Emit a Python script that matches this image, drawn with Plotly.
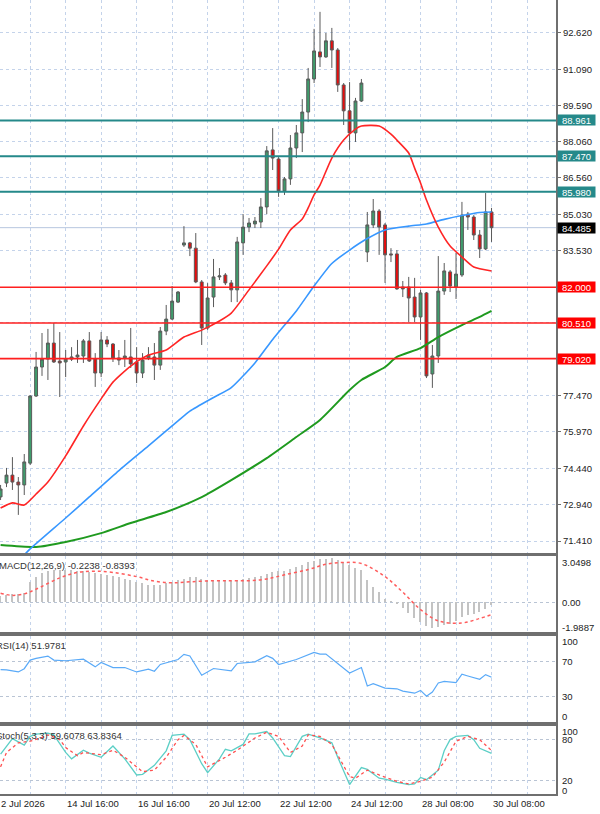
import plotly.graph_objects as go

# ---------------- data ----------------
bars = list(range(84))
opens = [73.25,73.83,74.16,73.87,73.75,74.66,77.46,78.67,79.00,79.67,78.92,78.88,79.00,79.09,79.13,79.76,79.00,78.42,79.80,79.63,
         79.05,79.05,79.09,78.88,78.42,79.05,79.09,78.75,80.17,80.67,81.38,83.76,83.85,83.63,82.22,80.30,81.59,82.43,82.51,82.18,
         81.89,83.85,84.51,84.64,84.72,85.35,87.73,87.35,86.02,86.52,87.81,88.44,89.31,90.69,91.82,91.61,92.28,91.90,90.44,89.36,
         88.44,89.77,83.47,84.60,85.18,84.60,83.39,83.39,82.01,82.01,81.59,80.76,81.76,78.38,79.13,81.84,82.64,82.01,82.51,85.05,
         84.93,84.18,83.60,85.14]
highs = [73.75,74.46,74.91,74.08,75.04,77.50,79.30,80.09,80.26,80.51,80.13,79.38,79.50,79.80,79.84,80.13,79.25,80.13,79.96,79.67,
         79.38,79.80,80.30,79.50,79.25,79.50,79.67,80.34,81.26,82.05,81.84,84.55,83.89,84.26,82.30,82.17,83.18,82.80,82.59,82.30,
         84.10,85.05,84.89,84.93,85.72,87.89,88.64,87.43,86.60,88.35,88.77,89.85,91.15,92.78,93.49,92.61,92.82,91.98,90.52,90.56,
         89.90,90.69,85.14,85.68,85.26,84.68,83.63,83.55,82.26,82.43,82.39,81.89,81.80,79.59,83.30,83.01,82.72,83.43,85.56,85.14,
         85.01,84.39,85.93,85.31]
lows = [73.12,73.66,73.54,72.50,73.33,74.58,77.42,78.30,78.13,78.84,77.42,78.25,78.92,78.84,78.84,78.88,77.84,78.25,79.50,78.88,
        78.75,78.67,78.63,78.00,78.21,78.96,78.13,78.55,80.00,80.63,81.34,83.68,83.30,82.17,79.59,80.22,81.17,82.30,82.09,81.38,
        81.38,83.35,84.30,84.47,84.47,85.05,86.89,85.77,85.85,86.27,87.39,87.64,88.89,90.52,91.19,91.57,91.15,90.15,88.77,87.73,
        88.06,89.73,83.05,84.47,83.35,82.18,83.05,81.89,81.59,80.55,80.55,79.80,78.21,77.80,78.84,81.68,81.80,81.51,82.43,84.39,
        83.97,83.22,83.55,83.89]
closes = [73.58,74.16,73.87,73.75,74.71,77.46,78.67,79.00,79.67,78.88,78.84,79.00,79.09,79.17,79.76,78.92,78.42,79.80,79.63,79.05,
          78.96,79.13,78.80,78.42,78.96,79.17,78.75,80.17,80.67,81.42,81.80,83.85,83.63,82.22,80.30,81.55,82.43,82.47,82.18,81.89,
          83.89,84.51,84.68,84.76,85.35,87.69,87.39,86.02,86.52,87.81,88.44,89.31,90.69,91.86,91.61,92.28,91.90,90.44,89.36,88.44,
          89.77,90.52,84.60,85.18,84.51,83.35,83.35,81.93,81.93,81.55,80.76,81.76,78.30,79.13,81.84,82.68,82.05,82.55,85.01,84.93,
          84.18,83.60,85.14,84.485]

ma_red_x = [0,2,4,6,8,11,14,17,19,22,25,28,31,34,37,39,42,45,47,49,51,52,53,54,56,58,60,61,64,66,67,69,70,71,72,74,76,78,80,83]
ma_red_y = [72.79,73.00,72.91,73.37,73.87,74.96,76.21,77.34,78.04,78.71,79.17,79.38,79.92,80.21,80.59,80.92,81.89,82.89,83.59,84.39,
            84.85,85.31,85.85,86.26,87.39,88.14,88.60,88.73,88.73,88.39,88.14,87.60,86.97,86.35,85.64,84.51,83.72,83.26,82.84,82.68]
ma_blue_x = [4,5,11,15,20,25,30,32,36,39,43,46,50,53,56,59,62,65,69,72,75,78,81,83]
ma_blue_y = [70.83,71.08,72.37,73.25,74.35,75.38,76.42,76.83,77.40,77.81,78.84,79.82,81.01,82.05,82.99,83.55,84.03,84.39,84.55,84.64,
             84.83,84.99,85.12,85.14]
ma_green_x = [0,6,11,17,22,28,34,39,45,50,54,59,61,65,67,71,74,78,81,83]
ma_green_y = [71.24,71.16,71.37,71.74,72.16,72.62,73.24,73.95,74.87,75.75,76.46,77.71,78.13,78.67,79.09,79.46,79.92,80.42,80.76,81.01]

levels_teal = [88.961, 87.470, 85.980]
levels_red = [82.000, 80.510, 79.020]
last_price = 84.485

price_ticks = [92.620,91.090,89.590,88.060,86.560,85.030,83.530,82.000,80.510,79.020,77.470,75.970,74.440,72.940,71.410]
price_text = ["92.620","91.090","89.590","88.060","86.560","85.030","83.530","","","","77.470","75.970","74.440","72.940","71.410"]

macd_main = [0.40,0.45,0.50,0.50,0.60,1.34,1.68,1.92,2.04,2.11,2.15,2.15,2.13,2.08,2.04,2.00,1.93,1.86,1.81,1.74,
             1.63,1.53,1.46,1.34,1.27,1.16,1.12,1.16,1.23,1.34,1.46,1.53,1.63,1.63,1.53,1.46,1.46,1.46,1.43,1.40,
             1.46,1.53,1.57,1.63,1.70,1.86,2.00,2.04,2.08,2.22,2.32,2.45,2.62,2.73,2.82,2.85,2.89,2.78,2.62,2.45,
             2.27,2.13,1.46,1.00,0.65,0.19,0.03,-0.12,-0.39,-0.74,-1.09,-1.32,-1.62,-1.71,-1.67,-1.55,-1.44,-1.25,-0.97,-0.86,
             -0.79,-0.63,-0.46,-0.22]
macd_sig_x = [0,2,4,6,10,13,16,19,23,26,29,32,36,39,42,45,48,52,55,58,61,65,68,71,74,78,81,83]
macd_sig_y = [0.58,0.44,0.54,0.85,1.60,1.96,2.04,1.96,1.68,1.38,1.27,1.34,1.41,1.41,1.41,1.53,1.80,2.15,2.50,2.62,
              2.55,1.68,0.65,-0.50,-1.25,-1.39,-1.09,-0.84]
macd_labels = ["3.0498", "0.00", "-1.9887"]
macd_label_vals = [3.0498, 0.0, -1.9887]

rsi_x = [0,1,3,4,5,6,8,9,11,14,16,17,19,21,23,25,26,27,30,31,32,34,36,39,40,43,45,46,47,50,53,54,55,57,59,61,62,63,65,67,
         68,70,71,72,73,74,75,77,78,79,81,82,83]
rsi_y = [61,60.5,58.2,62,72,74,76.7,72,71.2,73.1,64.1,69.2,63.3,63.3,58.2,61.4,59,66.9,72.7,78.6,76.7,54.3,62.2,59.4,68,70,
         77,74,66.9,72.7,81,79,79,68,57,63.3,41.8,44.5,39.4,38.6,35.9,33.5,36.7,30,34.9,45.3,47.3,45.7,55.5,53.5,49.6,55.1,51.98]

stoch_x = [0,1,2,3,4,5,6,8,9,11,12,14,15,17,19,21,23,24,26,28,29,31,32,34,35,37,38,39,41,42,43,45,46,48,49,51,52,54,56,57,
           59,61,62,64,65,67,69,70,71,72,74,75,76,77,79,80,81,83]
stoch_y = [58.7,70.6,81.4,76.7,72,84.7,88,89.4,87,61.1,51.7,64.4,60.2,54,70.6,51.7,28,29,42.2,63.5,86.1,88,80,44.6,31.3,51.7,
           65.8,63.5,72.9,88.5,88.5,91.8,82.4,56.4,55,84.7,88,82.4,75.3,54,13.9,38.9,36.1,23.3,21.9,17.2,13.9,14.8,24.3,21,
           35.1,63.5,80,84.7,86.1,80,67.2,59.6]
stoch_sig_x = [0,1,3,5,7,8,10,11,13,14,17,19,21,24,26,28,30,31,33,35,38,40,43,45,47,49,51,52,54,56,59,60,62,64,67,69,71,73,75,77,79,81,83]
stoch_sig_y = [39.9,61.1,75.3,77.6,83.3,87,80,68.2,56.4,61.1,57.8,64.4,54,32.8,35.1,54,80,86.1,72.9,39.9,54,64.4,82.4,90.9,84.7,
               61.1,70.6,87,84.7,72.9,25.7,23.3,35.1,28,18.6,14.8,18.6,24.7,46.9,77.6,84.7,80,63.8]

date_pos = [0, 11, 23, 35, 47, 59, 71, 83]
date_text = ["2 Jul 2026", "14 Jul 16:00", "16 Jul 16:00", "20 Jul 12:00", "22 Jul 12:00", "24 Jul 12:00", "28 Jul 08:00", "30 Jul 08:00"]

# ---------------- styling ----------------
FONT = "Liberation Sans"
FS = 9.5
GRID = "#c4d3ea"
BORDER = "#6f6f6f"
TEAL = "#25898a"
RED = "#ff1f1f"

fig = go.Figure()

fig.add_trace(go.Candlestick(
    x=bars, open=opens, high=highs, low=lows, close=closes,
    increasing=dict(fillcolor="#3f9c6c", line=dict(color="#5a5a5a", width=1)),
    decreasing=dict(fillcolor="#e80c0c", line=dict(color="#5a5a5a", width=1)),
    whiskerwidth=0, showlegend=False, hoverinfo="skip", xaxis="x", yaxis="y"))

fig.add_trace(go.Scatter(x=ma_green_x, y=ma_green_y, mode="lines", line=dict(color="#1f9a1f", width=2, shape="spline", smoothing=0.6),
                         showlegend=False, xaxis="x", yaxis="y"))
fig.add_trace(go.Scatter(x=ma_blue_x, y=ma_blue_y, mode="lines", line=dict(color="#3797ff", width=1.6, shape="spline", smoothing=0.6),
                         showlegend=False, xaxis="x", yaxis="y"))
fig.add_trace(go.Scatter(x=ma_red_x, y=ma_red_y, mode="lines", line=dict(color="#ff2525", width=1.6, shape="spline", smoothing=0.6),
                         showlegend=False, xaxis="x", yaxis="y"))

# MACD
fig.add_trace(go.Bar(x=bars, y=macd_main, width=0.25, marker=dict(color="#c3c3c3", line=dict(width=0)),
                     showlegend=False, xaxis="x2", yaxis="y2"))
fig.add_trace(go.Scatter(x=macd_sig_x, y=macd_sig_y, mode="lines", line=dict(color="#ff5c5c", width=1.5, dash="dot", shape="spline"),
                         showlegend=False, xaxis="x2", yaxis="y2"))
# RSI
fig.add_trace(go.Scatter(x=rsi_x, y=rsi_y, mode="lines", line=dict(color="#5aaaf8", width=1.2),
                         showlegend=False, xaxis="x3", yaxis="y3"))
# Stochastic
fig.add_trace(go.Scatter(x=stoch_x, y=stoch_y, mode="lines", line=dict(color="#5ccfc6", width=1.3),
                         showlegend=False, xaxis="x4", yaxis="y4"))
fig.add_trace(go.Scatter(x=stoch_sig_x, y=stoch_sig_y, mode="lines", line=dict(color="#ff5050", width=1.3, dash="dot"),
                         showlegend=False, xaxis="x4", yaxis="y4"))

PH = 794.0
def dom(top_px, bot_px):
    return [1 - bot_px / PH, 1 - top_px / PH]

xcommon = dict(range=[-0.1, 93.9], tickmode="linear", tick0=5, dtick=6, showticklabels=False,
               showgrid=True, gridcolor=GRID, griddash="dot", gridwidth=1, zeroline=False,
               showline=True, linecolor=BORDER, linewidth=2, ticks="", rangeslider=dict(visible=False))

fig.update_layout(
    width=600, height=814, margin=dict(l=0, r=44, t=0, b=20),
    paper_bgcolor="white", plot_bgcolor="white",
    font=dict(family=FONT, size=FS, color="#222222"),
    bargap=0,
    xaxis=dict(**xcommon, anchor="y", mirror=False),
    xaxis2=dict(**xcommon, anchor="y2", matches="x", mirror=True),
    xaxis3=dict(**xcommon, anchor="y3", matches="x", mirror=True),
    xaxis4=dict(**xcommon, anchor="y4", matches="x", mirror=True),
    yaxis=dict(domain=dom(0, 553), range=[70.91, 93.985], side="right", tickvals=price_ticks, ticktext=price_text,
               showgrid=True, gridcolor=GRID, griddash="dot", zeroline=False, showline=True, linecolor=BORDER, linewidth=2,
               ticks="outside", ticklen=3, tickcolor=BORDER, tickfont=dict(family=FONT, size=FS, color="#222")),
    yaxis2=dict(domain=dom(556, 632), range=[-1.9887, 3.0498], side="right", tickvals=[0], showticklabels=False,
                showgrid=True, gridcolor="#b9c4d4", griddash="dot", zeroline=False, showline=True, linecolor=BORDER, linewidth=2),
    yaxis3=dict(domain=dom(636, 722), range=[0, 100], side="right", tickvals=[30, 70], showticklabels=False,
                showgrid=True, gridcolor="#b9c4d4", griddash="dot", zeroline=False, showline=True, linecolor=BORDER, linewidth=2),
    yaxis4=dict(domain=dom(726, 794), range=[0, 100], side="right", tickvals=[20, 80], showticklabels=False,
                showgrid=True, gridcolor="#b9c4d4", griddash="dot", zeroline=False, showline=True, linecolor=BORDER, linewidth=2),
)

shapes = []
for v in levels_teal:
    shapes.append(dict(type="line", xref="x domain", x0=0, x1=1, yref="y", y0=v, y1=v, line=dict(color=TEAL, width=2)))
for v in levels_red:
    shapes.append(dict(type="line", xref="x domain", x0=0, x1=1, yref="y", y0=v, y1=v, line=dict(color=RED, width=1.6)))
shapes.append(dict(type="line", xref="x domain", x0=0, x1=1, yref="y", y0=last_price, y1=last_price,
                   line=dict(color="#b7c7df", width=1), layer="below"))
fig.update_layout(shapes=shapes)

ann = []
def level_box(v, bg, txt):
    return dict(xref="paper", x=1, xanchor="left", xshift=1, yref="y", y=v, yanchor="middle",
                text=txt, showarrow=False, bgcolor=bg, font=dict(family=FONT, size=FS, color="white"),
                width=37, height=10, borderpad=0, align="center")
for v in levels_teal:
    ann.append(level_box(v, TEAL, f"{v:.3f}"))
for v in levels_red:
    ann.append(level_box(v, "#ff0000", f"{v:.3f}"))
ann.append(level_box(last_price, "#000000", f"{last_price:.3f}"))

# indicator scale labels
for t, v, s in zip(macd_labels, macd_label_vals, [-6, 0, 5]):
    ann.append(dict(xref="paper", x=1, xanchor="left", xshift=4, yref="y2", y=v, yanchor="middle", yshift=s,
                    text=t, showarrow=False, font=dict(family=FONT, size=FS, color="#222")))
for v, s in zip([100, 70, 30, 0], [-5, 0, 0, 6]):
    ann.append(dict(xref="paper", x=1, xanchor="left", xshift=4, yref="y3", y=v, yanchor="middle", yshift=s,
                    text=str(v), showarrow=False, font=dict(family=FONT, size=FS, color="#222")))
for v, s in zip([100, 80, 20, 0], [-5, 0, 0, 4]):
    ann.append(dict(xref="paper", x=1, xanchor="left", xshift=4, yref="y4", y=v, yanchor="middle", yshift=s,
                    text=str(v), showarrow=False, font=dict(family=FONT, size=FS, color="#222")))

# panel titles
titles = [("MACD(12,26,9) -0.2238 -0.8393", 556, -3), ("RSI(14) 51.9781", 636, -6), ("Stoch(5,3,3) 59.6078 63.8364", 726, -6)]
for t, top, xs in titles:
    ann.append(dict(xref="paper", x=0, xanchor="left", xshift=xs, yref="paper", y=1 - top / PH, yanchor="top", yshift=-2,
                    text=t, showarrow=False, font=dict(family=FONT, size=FS, color="#333")))

# date labels
for p, t in zip(date_pos, date_text):
    ann.append(dict(xref="x4", x=p, xanchor="left", xshift=-1 if p > 0 else -2, yref="paper", y=0, yanchor="top", yshift=-2,
                    text=t, showarrow=False, font=dict(family=FONT, size=FS, color="#222")))
fig.update_layout(annotations=ann)

fig.write_html("out.html")
